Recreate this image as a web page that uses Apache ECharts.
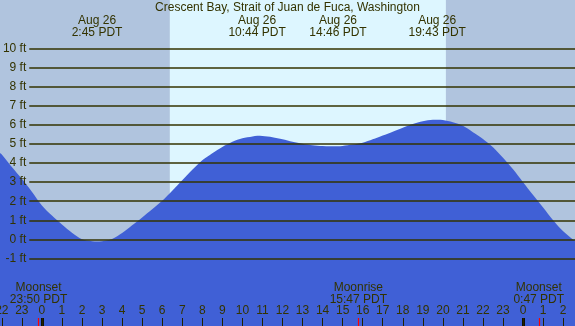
<!DOCTYPE html>
<html>
<head>
<meta charset="utf-8">
<script src="https://cdn.jsdelivr.net/npm/echarts@6/dist/echarts.min.js"></script>
<style>
  html, body { margin: 0; padding: 0; }
  #main { width: 575px; height: 326px; }
</style>
</head>
<body>
<div id="main"></div>
<script>
// hours from midnight Aug 26 (negative = Aug 25)
var hours = [-2.09, -2, -1.5, -1, -0.5, 0, 0.5, 1, 1.5, 2, 2.5, 2.75, 3, 3.5, 4, 4.5, 5, 5.5, 6, 6.5, 7, 7.5, 8, 8.5, 9, 9.5, 10, 10.5, 10.75, 11, 11.5, 12, 12.5, 13, 13.5, 14, 14.75, 15, 15.5, 16, 16.5, 17, 17.5, 18, 18.5, 19, 19.5, 19.75, 20, 20.5, 21, 21.5, 22, 22.5, 23, 23.5, 24, 24.5, 25, 25.5, 26, 26.5, 26.59];
var tideFt = [4.53, 4.45, 3.8, 3.18, 2.5, 1.78, 1.25, 0.78, 0.35, 0.0, -0.1, -0.12, -0.1, 0.02, 0.33, 0.74, 1.15, 1.58, 2.02, 2.55, 3.1, 3.65, 4.15, 4.52, 4.85, 5.12, 5.3, 5.4, 5.43, 5.42, 5.36, 5.25, 5.12, 5.02, 4.94, 4.9, 4.88, 4.9, 4.97, 5.07, 5.25, 5.45, 5.65, 5.85, 6.05, 6.2, 6.27, 6.28, 6.26, 6.15, 5.96, 5.62, 5.27, 4.83, 4.28, 3.68, 3.0, 2.33, 1.67, 1.0, 0.42, -0.02, -0.06];

var tideTimes = [2.75, 10.733, 14.767, 19.717];
var tideLabels = ['Aug 26\n2:45 PDT', 'Aug 26\n10:44 PDT', 'Aug 26\n14:46 PDT', 'Aug 26\n19:43 PDT'];

var moonTimes = [-0.167, 15.783, 24.783];
var moonLabels = ['Moonset\n23:50 PDT', 'Moonrise\n15:47 PDT', 'Moonset\n0:47 PDT'];
var midnights = [0, 24];

var sunrise = 6.38, sunset = 20.15;
var ftLevels = [-1, 0, 1, 2, 3, 4, 5, 6, 7, 8, 9, 10];
var hourTicks = [];
for (var h = -2; h <= 26; h++) hourTicks.push(h);

var xMin = -2.09, xMax = 26.59;
var yMin = -4.55, yMax = 12.56;
var txt = '#333300';
var font = 'Liberation Sans';

var chart = echarts.init(document.getElementById('main'));

var tideData = hours.map(function (h, i) { return [h, tideFt[i]]; });

var levelLines = ftLevels.map(function (v) {
    return [{ coord: [-0.63, v], label: { formatter: v + ' ft' } }, { coord: [xMax, v] }];
});

var moonLines = moonTimes.map(function (t, i) {
    return [{ coord: [t, yMin], label: { formatter: moonLabels[i] } }, { coord: [t, yMin + 0.42] }];
});
var midLines = midnights.map(function (t) {
    return [{ coord: [t, yMin] }, { coord: [t, yMin + 0.42] }];
});

var option = {
    animation: false,
    backgroundColor: '#b0c4de',
    textStyle: { fontFamily: font },
    title: {
        text: 'Crescent Bay, Strait of Juan de Fuca, Washington',
        left: 'center',
        top: -3,
        textStyle: { fontFamily: font, fontSize: 12, fontWeight: 'normal', color: txt }
    },
    grid: { left: 0, right: 0, top: 0, bottom: 0, containLabel: false, outerBoundsMode: 'none' },
    xAxis: [{
        type: 'value', min: xMin, max: xMax, z: 10,
        axisLine: { show: false, onZero: false },
        splitLine: { show: false },
        axisTick: { inside: true, length: 8, customValues: hourTicks, lineStyle: { color: '#222200' } },
        axisLabel: {
            inside: true, margin: 9, customValues: hourTicks, hideOverlap: false,
            alignMinLabel: 'center', alignMaxLabel: 'center',
            color: txt, fontFamily: font, fontSize: 12,
            formatter: function (v) { return String(((Math.round(v) % 24) + 24) % 24); }
        }
    }, {
        type: 'value', min: xMin, max: xMax, position: 'top', z: 10,
        axisLine: { show: false, onZero: false },
        splitLine: { show: false },
        axisTick: { show: false },
        axisLabel: {
            inside: true, margin: 15, customValues: tideTimes, hideOverlap: false,
            color: txt, fontFamily: font, fontSize: 12, lineHeight: 12,
            formatter: function (v) {
                var i = tideTimes.indexOf(v);
                return i >= 0 ? tideLabels[i] : '';
            }
        }
    }],
    yAxis: {
        type: 'value', min: yMin, max: yMax,
        show: false
    },
    series: [{
        type: 'line',
        data: [],
        z: 1,
        markArea: {
            silent: true,
            itemStyle: { color: '#ddf6ff' },
            data: [[{ xAxis: sunrise }, { xAxis: sunset }]]
        }
    }, {
        type: 'line',
        data: tideData,
        smooth: 0.3,
        symbol: 'none',
        z: 2,
        lineStyle: { width: 0 },
        areaStyle: { color: '#4060d6', opacity: 1, origin: 'start' }
    }, {
        type: 'line',
        data: [],
        z: 3,
        markLine: {
            silent: true,
            symbol: ['none', 'none'],
            lineStyle: { color: '#333300', width: 1.5, type: 'solid' },
            label: { position: 'start', distance: 3, color: txt, fontFamily: font, fontSize: 12 },
            data: levelLines
        }
    }, {
        type: 'line',
        data: [],
        z: 4,
        markLine: {
            silent: true,
            symbol: ['none', 'none'],
            lineStyle: { color: '#ff0000', width: 1.2, type: 'solid' },
            label: { position: 'end', distance: 12, color: txt, fontFamily: font, fontSize: 12, lineHeight: 12 },
            data: moonLines
        }
    }, {
        type: 'line',
        data: [],
        z: 4,
        markLine: {
            silent: true,
            symbol: ['none', 'none'],
            lineStyle: { color: '#111100', width: 3, type: 'solid' },
            label: { show: false },
            data: midLines
        }
    }]
};

chart.setOption(option);
</script>
</body>
</html>
